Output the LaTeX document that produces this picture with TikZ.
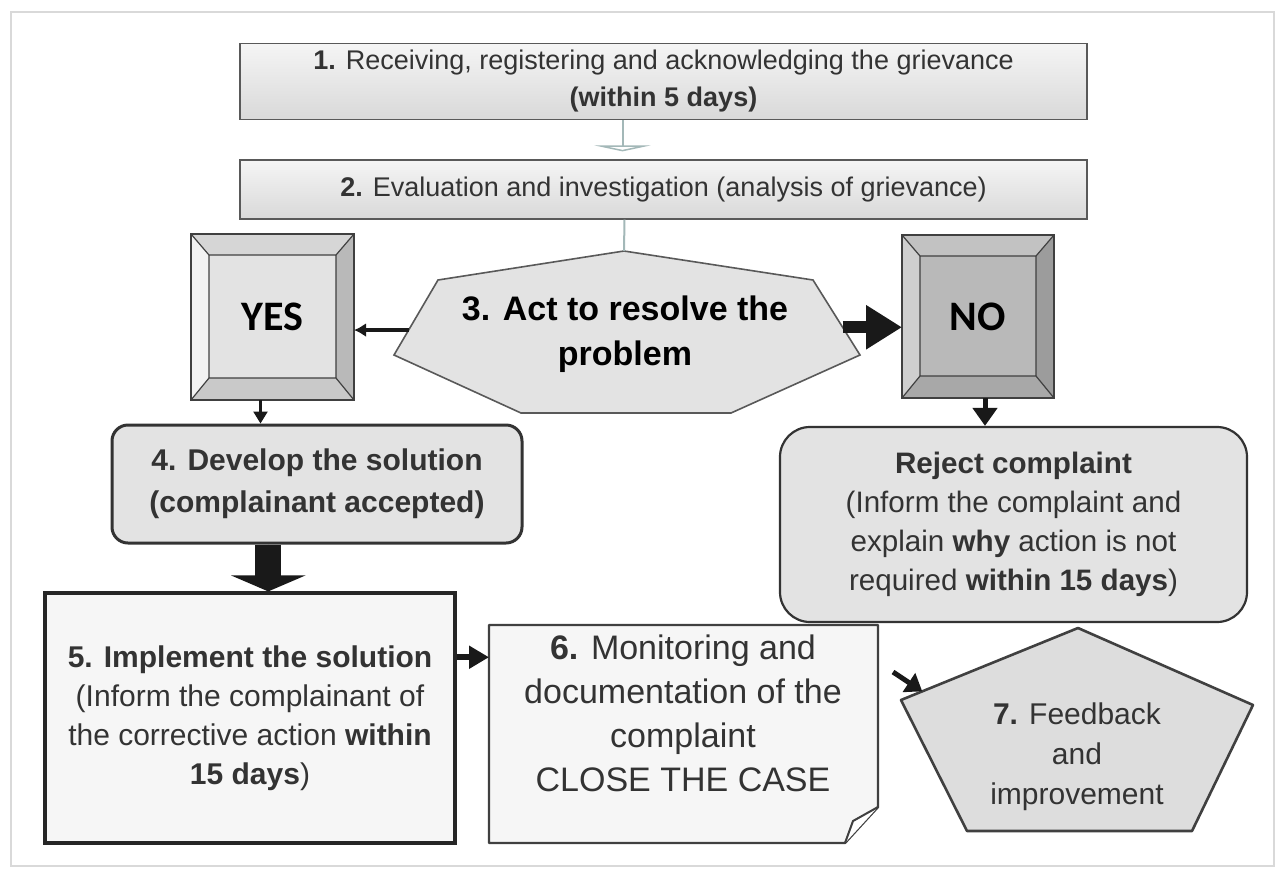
\documentclass[tikz,border=0pt]{standalone}
\usepackage{fontspec}
\setmainfont{Liberation Sans}
\newfontfamily\keyfont{Carlito}
\usetikzlibrary{calc, arrows.meta}
\colorlet{StepFill}{gray!22}
\colorlet{StepFillLight}{gray!7}
\colorlet{StepText}{black!80}
\definecolor{LinkTeal}{HTML}{A3B8B8}
\tikzset{
    stepbar/.style={
        draw=gray!70!black, line width=0.6pt, top color=gray!8, bottom color=gray!30,
        minimum width=423.5pt, align=center, text=StepText,
        font=\fontsize{13.5}{18.5}\selectfont
    },
    keybox/.style={
        draw=black!80, line width=0.7pt, outer sep=0pt,
        font=\keyfont\bfseries\fontsize{21}{24}\selectfont
    },
    bevelline/.style={draw=black!75, line width=0.6pt},
    roundstep/.style={
        draw=black!80, line width=1.5pt, fill=StepFill, rounded corners=8pt,
        align=center, text=StepText
    },
    plainstep/.style={
        draw=black!85, line width=1.6pt, fill=StepFillLight,
        align=center, text=StepText
    },
    shapeline/.style={draw=black!75, line width=1.3pt},
    link/.style={draw=black!90, fill=black!90}
}
% bevelled key: node, top, left, right and bottom face colours
\newcommand{\bevelkey}[5]{%
    \coordinate (#1-a) at ($(#1.north west)+(18,21)$);
    \coordinate (#1-b) at ($(#1.north east)+(-18,21)$);
    \coordinate (#1-c) at ($(#1.south east)+(-18,-22)$);
    \coordinate (#1-d) at ($(#1.south west)+(18,-22)$);
    \fill[#2] (#1.north west) -- (#1.north east) -- (#1-b) -- (#1-a) -- cycle;
    \fill[#3] (#1.north west) -- (#1-a) -- (#1-d) -- (#1.south west) -- cycle;
    \fill[#4] (#1.north east) -- (#1.south east) -- (#1-c) -- (#1-b) -- cycle;
    \fill[#5] (#1.south west) -- (#1-d) -- (#1-c) -- (#1.south east) -- cycle;
    \draw[bevelline] (#1.north west) -- (#1-a) (#1.north east) -- (#1-b)
        (#1.south east) -- (#1-c) (#1.south west) -- (#1-d) (#1-a) rectangle (#1-c);
    \draw[bevelline] (#1.north west) rectangle (#1.south east);
}

\begin{document}
\begin{tikzpicture}[x=0.5pt, y=-0.5pt]

\useasboundingbox[fill=white] (0,0) rectangle (1276,869);
\draw[gray!30, line width=1pt] (11,12) rectangle (1274,866);

% steps 1 and 2
\node[stepbar, minimum height=37.5pt] (receive) at (663.5,81.5)
    {\textbf{1.} Receiving, registering and acknowledging the grievance\\\textbf{(within 5 days)}};
\node[stepbar, minimum height=29.5pt] (assess) at (663.5,189.5)
    {\textbf{2.} Evaluation and investigation (analysis of grievance)};

% step 3
\coordinate (act-t) at (624,251);
\coordinate (act-ur) at (813,280);
\coordinate (act-r) at (860,355);
\coordinate (act-lr) at (731,413);
\coordinate (act-ll) at (521,413);
\coordinate (act-l) at (394,355);
\coordinate (act-ul) at (438,280);
\draw[draw=black!65, line width=0.8pt, fill=gray!22]
    (act-t) -- (act-ur) -- (act-r) -- (act-lr) -- (act-ll) -- (act-l) -- (act-ul) -- cycle;
\node[align=center, font=\bfseries\fontsize{17}{22.5}\selectfont] (act) at (625,334)
    {3. Act to resolve the\\problem};

% yes and no keys
\node[keybox, fill=gray!22, minimum width=81.5pt, minimum height=83pt] (yes) at (272.5,317) {YES};
\bevelkey{yes}{gray!32}{gray!10}{gray!55}{gray!42}
\node[keybox, fill=gray!55, minimum width=76pt, minimum height=81.5pt] (no) at (978,316.5) {NO};
\bevelkey{no}{gray!48}{gray!38}{gray!78}{gray!68}

% step 4 and rejection
\node[roundstep, minimum width=205pt, minimum height=59pt,
    font=\bfseries\fontsize{15}{21}\selectfont] (develop) at (317,484)
    {4. Develop the solution\\(complainant accepted)};
\node[roundstep, line width=1.1pt, rounded corners=15pt, minimum width=233.5pt, minimum height=97.5pt,
    font=\fontsize{14.8}{19.5}\selectfont] (reject) at (1013.5,524.5)
    {\textbf{Reject complaint}\\(Inform the complaint and\\explain \textbf{why} action is not\\required \textbf{within 15 days})};

% step 5
\node[plainstep, minimum width=205pt, minimum height=125pt,
    font=\fontsize{15}{19.5}\selectfont] (implement) at (250,718)
    {\textbf{5. Implement the solution}\\(Inform the complainant of\\the corrective action \textbf{within}\\\textbf{15 days})};

% step 6, folded sheet
\coordinate (doc-nw) at (489,625);
\coordinate (doc-ne) at (878,625);
\coordinate (doc-e) at (878,807);
\coordinate (doc-s) at (845,843);
\coordinate (doc-sw) at (489,843);
\coordinate (doc-f) at (853,821);
\draw[shapeline, line width=1.2pt, fill=StepFillLight, line join=round]
    (doc-nw) -- (doc-ne) -- (doc-e) -- (doc-s) -- (doc-sw) -- cycle;
\draw[shapeline, line width=1pt, fill=white, line join=round] (doc-e) -- (doc-f) -- (doc-s);
\node[align=center, text=StepText, font=\fontsize{17}{22}\selectfont] (monitor) at (683,713)
    {\textbf{6.} Monitoring and\\documentation of the\\complaint\\CLOSE THE CASE};

% step 7
\coordinate (feed-t) at (1078,628);
\coordinate (feed-r) at (1253,705);
\coordinate (feed-br) at (1192,831);
\coordinate (feed-bl) at (967,831);
\coordinate (feed-l) at (901,700);
\draw[shapeline, fill=gray!27, line join=round]
    (feed-t) -- (feed-r) -- (feed-br) -- (feed-bl) -- (feed-l) -- cycle;
\node[align=center, text=StepText, font=\fontsize{15}{20}\selectfont] (feedback) at (1077,757)
    {\textbf{7.} Feedback\\and\\improvement};

% connectors
\coordinate (receive-out) at ($(receive.south)+(-41,0)$);
\draw[LinkTeal, line width=1pt, shorten >=4pt, -{Triangle[open, width=28pt, length=3pt]}]
    (receive-out) -- (receive-out |- assess.north);
\coordinate (assess-out) at ($(assess.south)+(-39,0)$);
\draw[LinkTeal, line width=1pt] (assess-out) -- (act-t);

\coordinate (act-w) at ($(act-ul)!0.667!(act-l)$);
\coordinate (act-e) at ($(act-ur)!0.63!(act-r)$);
\draw[link, line width=1.6pt, -{Latex[width=7pt, length=6pt]}] (act-w) -- (act-w -| yes.east);
\draw[link, line width=6pt, -{Triangle[width=21pt, length=18pt]}] (act-e) -- (act-e -| no.west);

\coordinate (yes-out) at ($(yes.south)+(-12,0)$);
\draw[link, line width=1.2pt, -{Triangle[width=7pt, length=6pt]}] (yes-out) -- (yes-out |- develop.north);
\coordinate (no-out) at ($(no.south)+(7,0)$);
\draw[link, line width=2.5pt, -{Triangle[width=12pt, length=9pt]}] (no-out) -- (no-out |- reject.north);

\coordinate (develop-out) at ($(develop.south west)!0.382!(develop.south east)$);
\draw[link, line width=13pt, -{Triangle[width=37pt, length=8pt]}] (develop-out) -- (develop-out |- implement.north);

\coordinate (implement-out) at ($(implement.north east)!0.26!(implement.south east)$);
\draw[link, line width=3pt, -{Triangle[width=11pt, length=10pt]}] (implement-out) -- (implement-out -| doc-nw);

\coordinate (monitor-out) at (893,672);
\coordinate (feed-in) at ($(feed-l)!0.12!(feed-t)$);
\draw[link, line width=2.5pt, -{Triangle[width=11pt, length=8pt]}] (monitor-out) -- (feed-in);

\end{tikzpicture}
\end{document}
